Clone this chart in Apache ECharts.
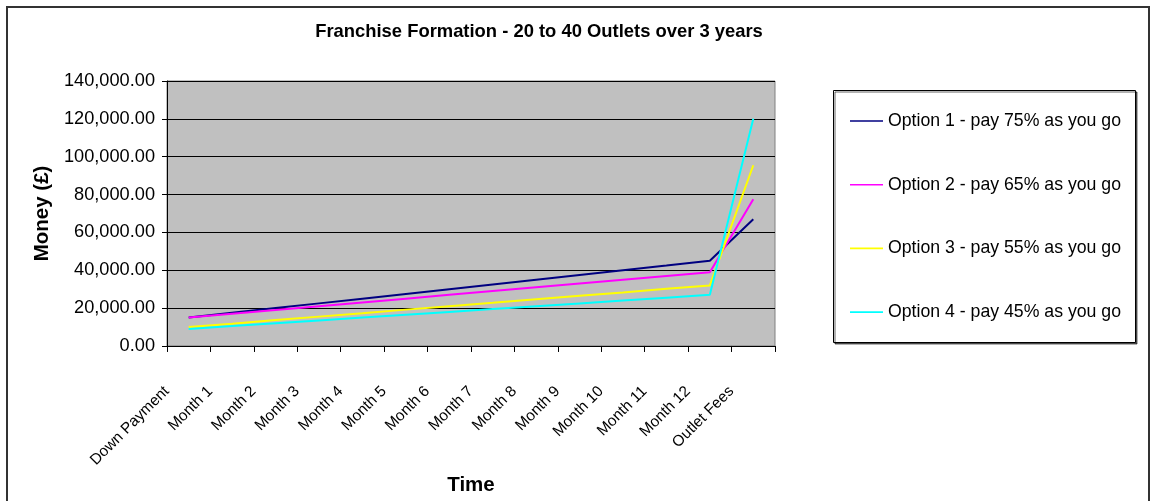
<!DOCTYPE html>
<html>
<head>
<meta charset="utf-8">
<script src="https://cdn.jsdelivr.net/npm/echarts@6/dist/echarts.min.js"></script>
<style>
html,body{margin:0;padding:0;background:#fff;}
#chart{width:1150px;height:501px;}
</style>
</head>
<body>
<div id="chart"></div>
<script>
var categories = ['Down Payment','Month 1','Month 2','Month 3','Month 4','Month 5','Month 6','Month 7','Month 8','Month 9','Month 10','Month 11','Month 12','Outlet Fees'];
var seriesNames = ['Option 1 - pay 75% as you go','Option 2 - pay 65% as you go','Option 3 - pay 55% as you go','Option 4 - pay 45% as you go'];
var option1 = [15000,17500,20000,22500,25000,27500,30000,32500,35000,37500,40000,42500,45000,67000];
var option2 = [15000,17000,19000,21000,23000,25000,27000,29000,31000,33000,35000,37000,39000,77500];
var option3 = [10000,11800,13700,15500,17300,19200,21000,22800,24700,26500,28300,30200,32000,95500];
var option4 = [9000,10500,12000,13500,15000,16500,18000,19500,21000,22500,24000,25500,27000,120000];
var yTicks = [0,20000,40000,60000,80000,100000,120000,140000];

var colors = ['#000080','#FF00FF','#FFFF00','#00FFFF'];
var FONT = '"Liberation Sans", Arial, sans-serif';

var chart = echarts.init(document.getElementById('chart'), null, {renderer:'canvas'});

function fmt(v){
  return Number(v).toLocaleString('en-US',{minimumFractionDigits:2,maximumFractionDigits:2});
}

var dataSets = [option1, option2, option3, option4];
var series = dataSets.map(function(d,i){
  return {
    name: seriesNames[i],
    type: 'line',
    data: d,
    symbol: 'none',
    smooth: false,
    lineStyle: {color: colors[i], width: 2},
    itemStyle: {color: colors[i]},
    emphasis: {disabled: true},
    animation: false
  };
});

chart.setOption({
  animation: false,
  textStyle: {fontFamily: FONT},
  title: {
    text: 'Franchise Formation - 20 to 40 Outlets over 3 years',
    left: 539, top: 23, textAlign: 'center',
    padding: 0,
    textStyle: {fontFamily: FONT, fontSize: 18.4, fontWeight: 'bold', color: '#000'}
  },
  graphic: [
    {type:'rect', left: 6, top: 6, silent: true, z: -10,
      shape:{x:0,y:0,width:1142,height:520},
      style:{fill:'#fff', stroke:'#333', lineWidth:2}},
    {type:'rect', left: 833, top: 90, silent: true, z: -5,
      shape:{x:0,y:0,width:302,height:252},
      style:{fill:'#fff', stroke:'#000', lineWidth:1, shadowColor:'rgba(0,0,0,0.6)', shadowOffsetX:1.5, shadowOffsetY:1.5}}
  ],
  legend: {
    orient: 'vertical',
    left: 850, top: 111,
    padding: 0,
    itemWidth: 33, itemHeight: 20, itemGap: 43.7,
    icon: 'path://M0,10L33,10L33,11.6L0,11.6Z',
    data: seriesNames,
    selectedMode: false,
    textStyle: {fontFamily: FONT, fontSize: 17.7, color: '#000', lineHeight: 20}
  },
  grid: {
    left: 167, top: 81, width: 608, height: 270,
    show: true, backgroundColor: '#C0C0C0', borderColor: '#808080', borderWidth: 1
  },
  xAxis: {
    type: 'category',
    data: categories,
    boundaryGap: true,
    name: 'Time',
    nameLocation: 'middle',
    nameGap: 138,
    nameTextStyle: {fontFamily: FONT, fontSize: 20.5, fontWeight: 'bold', color: '#000', align:'center', verticalAlign:'middle'},
    axisLine: {show: true, lineStyle: {color: '#000', width: 1}},
    axisTick: {show: true, length: 6, interval: 0, lineStyle: {color: '#000'}},
    axisLabel: {
      interval: 0, rotate: 45, margin: 21,
      fontFamily: FONT, fontSize: 15.4, color: '#000',
      padding: [0, 31, 0, 0]
    },
    splitLine: {show: false}
  },
  yAxis: {
    type: 'value',
    min: yTicks[0], max: yTicks[yTicks.length-1], interval: 20000,
    name: 'Money (£)',
    nameLocation: 'middle',
    nameGap: 125,
    nameRotate: 90,
    nameTextStyle: {fontFamily: FONT, fontSize: 20.5, fontWeight: 'bold', color: '#000', align:'center', verticalAlign:'middle'},
    axisLine: {show: true, lineStyle: {color: '#000', width: 1}},
    axisTick: {show: true, length: 5, lineStyle: {color: '#000'}},
    axisLabel: {
      margin: 12, fontFamily: FONT, fontSize: 18.2, color: '#000',
      formatter: function(v){ return fmt(v); }
    },
    splitLine: {show: true, lineStyle: {color: '#000', width: 1}}
  },
  series: series
});
</script>
</body>
</html>
